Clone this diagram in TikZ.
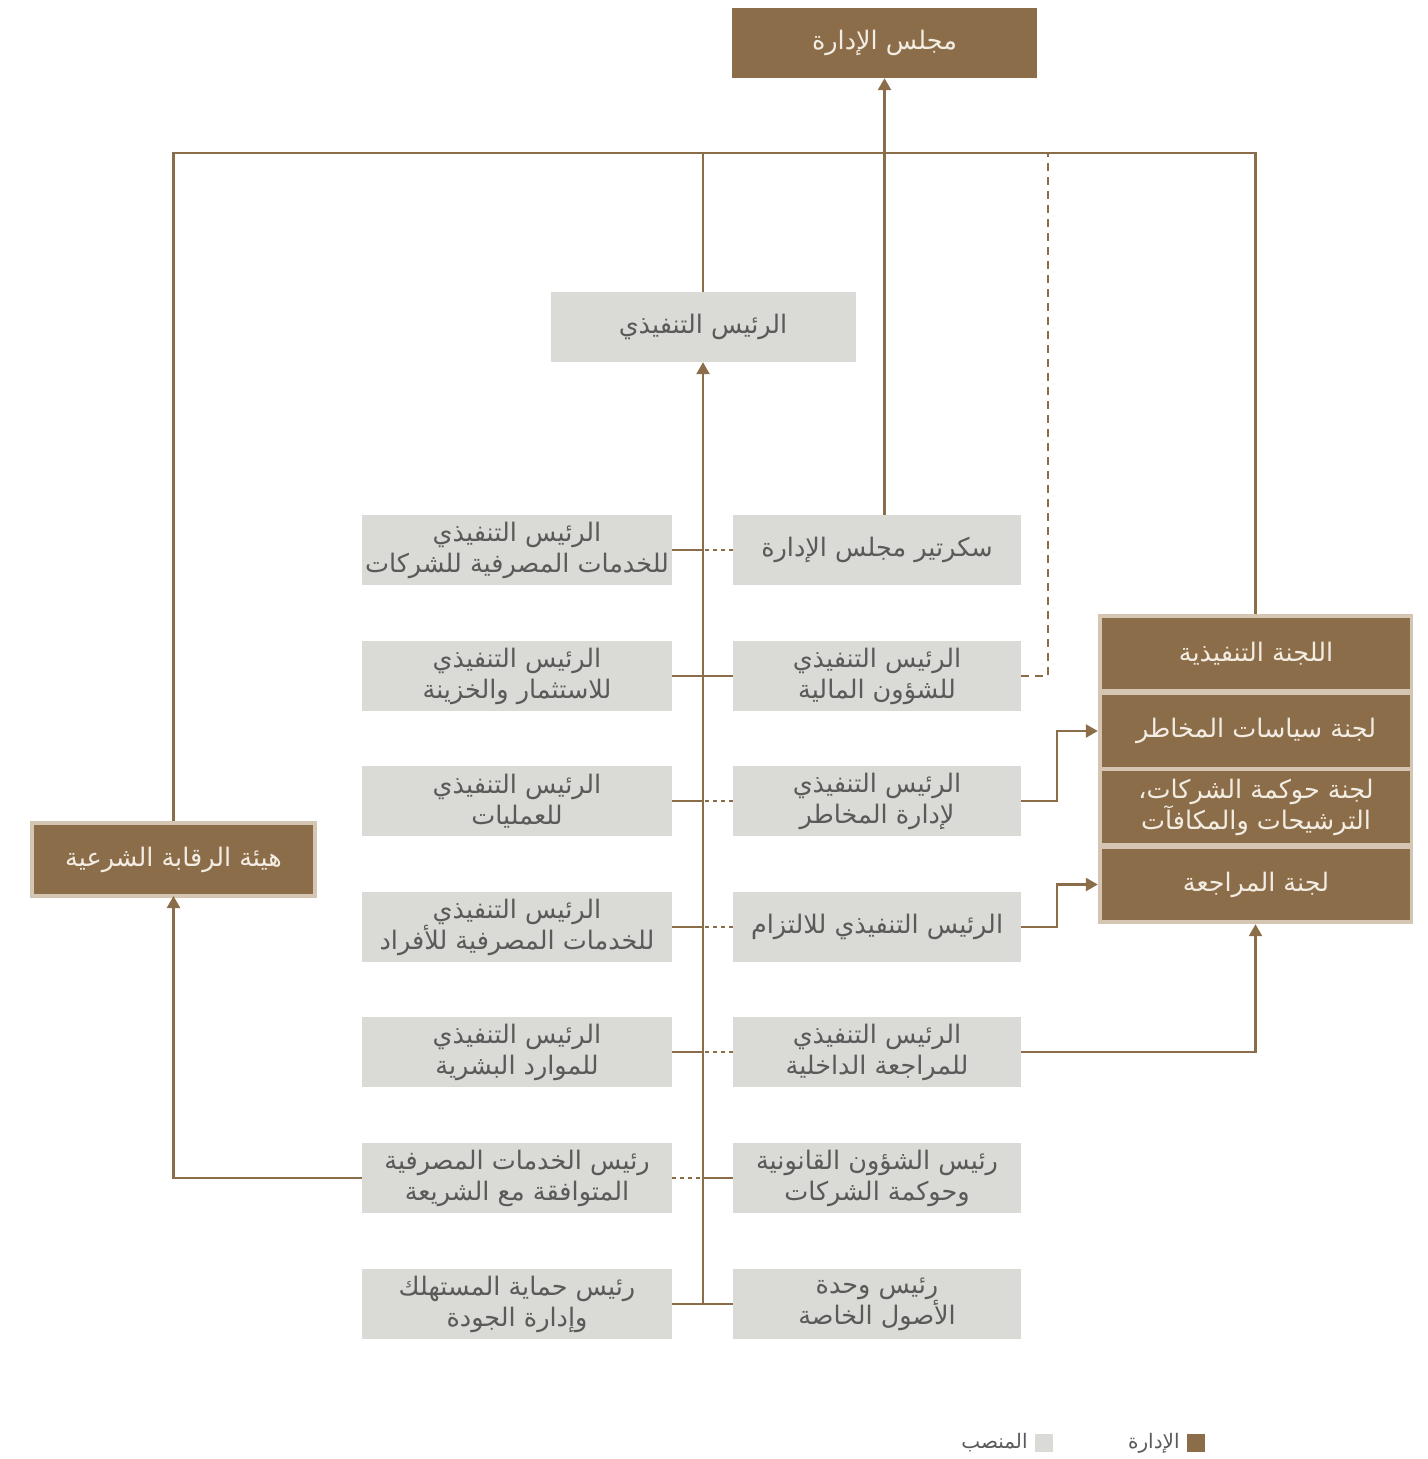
\documentclass[tikz,border=0pt]{standalone}
\usepackage{fontspec}
\newfontfamily\arabicfont[Script=Arabic]{DejaVu Sans}
\TeXXeTstate=1
\usetikzlibrary{arrows.meta}
\definecolor{mgmtbrown}{HTML}{8B6D4A}
\definecolor{posgray}{HTML}{DADAD6}
\definecolor{framebeige}{HTML}{D5C6B4}
\definecolor{postext}{HTML}{5A5A5A}
\definecolor{mgmttext}{HTML}{F3ECE2}
\newcommand{\rl}[1]{\beginR #1\endR}
\tikzset{
  posbox/.style={fill=posgray, text=postext, minimum width=288pt, minimum height=70pt,
    inner sep=0pt, align=center, font=\arabicfont\fontsize{25.5}{31}\selectfont},
  leftbox/.style={posbox, minimum width=310pt},
  mgmtbox/.style={fill=mgmtbrown, text=mgmttext, minimum width=308pt, minimum height=71pt,
    inner sep=0pt, align=center, font=\arabicfont\fontsize{25.5}{31}\selectfont},
  link/.style={draw=mgmtbrown, line width=2.5pt},
  dotlink/.style={link, dash pattern=on 4pt off 4pt},
  dashlink/.style={link, dash pattern=on 8pt off 6pt},
  legtext/.style={text=postext, anchor=east, inner sep=0pt, font=\arabicfont\fontsize{20}{22}\selectfont}
}
\begin{document}
\begin{tikzpicture}[x=1pt, y=-1pt, >={Triangle[width=13pt,length=12pt]}]
\useasboundingbox (0,0) rectangle (1427,1459);

% top level
\node[mgmtbox, minimum width=305pt, minimum height=70pt] (board) at (884.5,43) {\rl{مجلس الإدارة}};
\node[posbox, minimum width=305pt] (ceo) at (703,327) {\rl{الرئيس التنفيذي}};
\coordinate (topline) at (703,153);

% shariah board
\node[mgmtbox, draw=framebeige, line width=4pt, minimum width=283pt, minimum height=73pt] (sharia) at (173.5,859.5) {\rl{هيئة الرقابة الشرعية}};

% committees
\node[fill=framebeige, minimum width=315pt, minimum height=310pt, inner sep=0pt] (cmte) at (1255.5,769) {};
\node[mgmtbox] (exec) at (1256,653.5) {\rl{اللجنة التنفيذية}};
\node[mgmtbox, minimum height=72pt] (risk) at (1256,731) {\rl{لجنة سياسات المخاطر}};
\node[mgmtbox, minimum height=72pt] (gov) at (1256,807) {\rl{لجنة حوكمة الشركات،}\\\rl{الترشيحات والمكافآت}};
\node[mgmtbox] (audit) at (1256,884.5) {\rl{لجنة المراجعة}};

% positions, left column
\node[leftbox] (l1) at (517,550) {\rl{الرئيس التنفيذي}\\\rl{للخدمات المصرفية للشركات}};
\node[leftbox] (l2) at (517,676) {\rl{الرئيس التنفيذي}\\\rl{للاستثمار والخزينة}};
\node[leftbox] (l3) at (517,801) {\rl{الرئيس التنفيذي}\\\rl{للعمليات}};
\node[leftbox] (l4) at (517,927) {\rl{الرئيس التنفيذي}\\\rl{للخدمات المصرفية للأفراد}};
\node[leftbox] (l5) at (517,1052) {\rl{الرئيس التنفيذي}\\\rl{للموارد البشرية}};
\node[leftbox] (l6) at (517,1178) {\rl{رئيس الخدمات المصرفية}\\\rl{المتوافقة مع الشريعة}};
\node[leftbox] (l7) at (517,1304) {\rl{رئيس حماية المستهلك}\\\rl{وإدارة الجودة}};

% positions, right column
\node[posbox] (r1) at (877,550) {\rl{سكرتير مجلس الإدارة}};
\node[posbox] (r2) at (877,676) {\rl{الرئيس التنفيذي}\\\rl{للشؤون المالية}};
\node[posbox] (r3) at (877,801) {\rl{الرئيس التنفيذي}\\\rl{لإدارة المخاطر}};
\node[posbox] (r4) at (877,927) {\rl{الرئيس التنفيذي للالتزام}};
\node[posbox] (r5) at (877,1052) {\rl{الرئيس التنفيذي}\\\rl{للمراجعة الداخلية}};
\node[posbox] (r6) at (877,1178) {\rl{رئيس الشؤون القانونية}\\\rl{وحوكمة الشركات}};
\node[posbox] (r7) at (877,1304) {\rl{رئيس وحدة}\\\rl{الأصول الخاصة}};

% spine to the CEO
\coordinate (spinebot) at (703,1304);
\draw[link, ->] (spinebot) -- (ceo.south);
\foreach \n in {l1,l2,l3,l4,l5,l7}
  \draw[link] (\n.east) -- (\n.east -| spinebot);
\draw[dotlink] (l6.east) -- (l6.east -| spinebot);
\foreach \n in {r2,r6,r7}
  \draw[link] (\n.west) -- (\n.west -| spinebot);
\foreach \n in {r1,r3,r4,r5}
  \draw[dotlink] (\n.west) -- (\n.west -| spinebot);

% lines up to the board
\draw[link] (sharia.north) |- (cmte.north |- topline) -- (cmte.north);
\draw[link] (ceo.north) -- (topline);
\draw[link, ->] (board.south |- r1.north) -- (board.south);
\draw[dashlink] (r2.east) -| (1048,153);

% lines to the committees and the shariah board
\draw[link, ->] (r3.east) -- ++(36,0) |- (risk.west -| cmte.west);
\draw[link, ->] (r4.east) -- ++(36,0) |- (audit.west -| cmte.west);
\draw[link, ->] (r5.east) -| (cmte.south);
\draw[link, ->] (l6.west) -| ([yshift=2pt]sharia.south);

% legend
\node[fill=mgmtbrown, minimum size=18pt, inner sep=0pt] (legmgmt) at (1196,1443) {};
\node[legtext] (legmgmttext) at ([xshift=-7pt]legmgmt.west) {\rl{الإدارة}};
\node[fill=posgray, minimum size=18pt, inner sep=0pt] (legpos) at (1044,1443) {};
\node[legtext] (legpostext) at ([xshift=-7pt]legpos.west) {\rl{المنصب}};
\end{tikzpicture}
\end{document}
